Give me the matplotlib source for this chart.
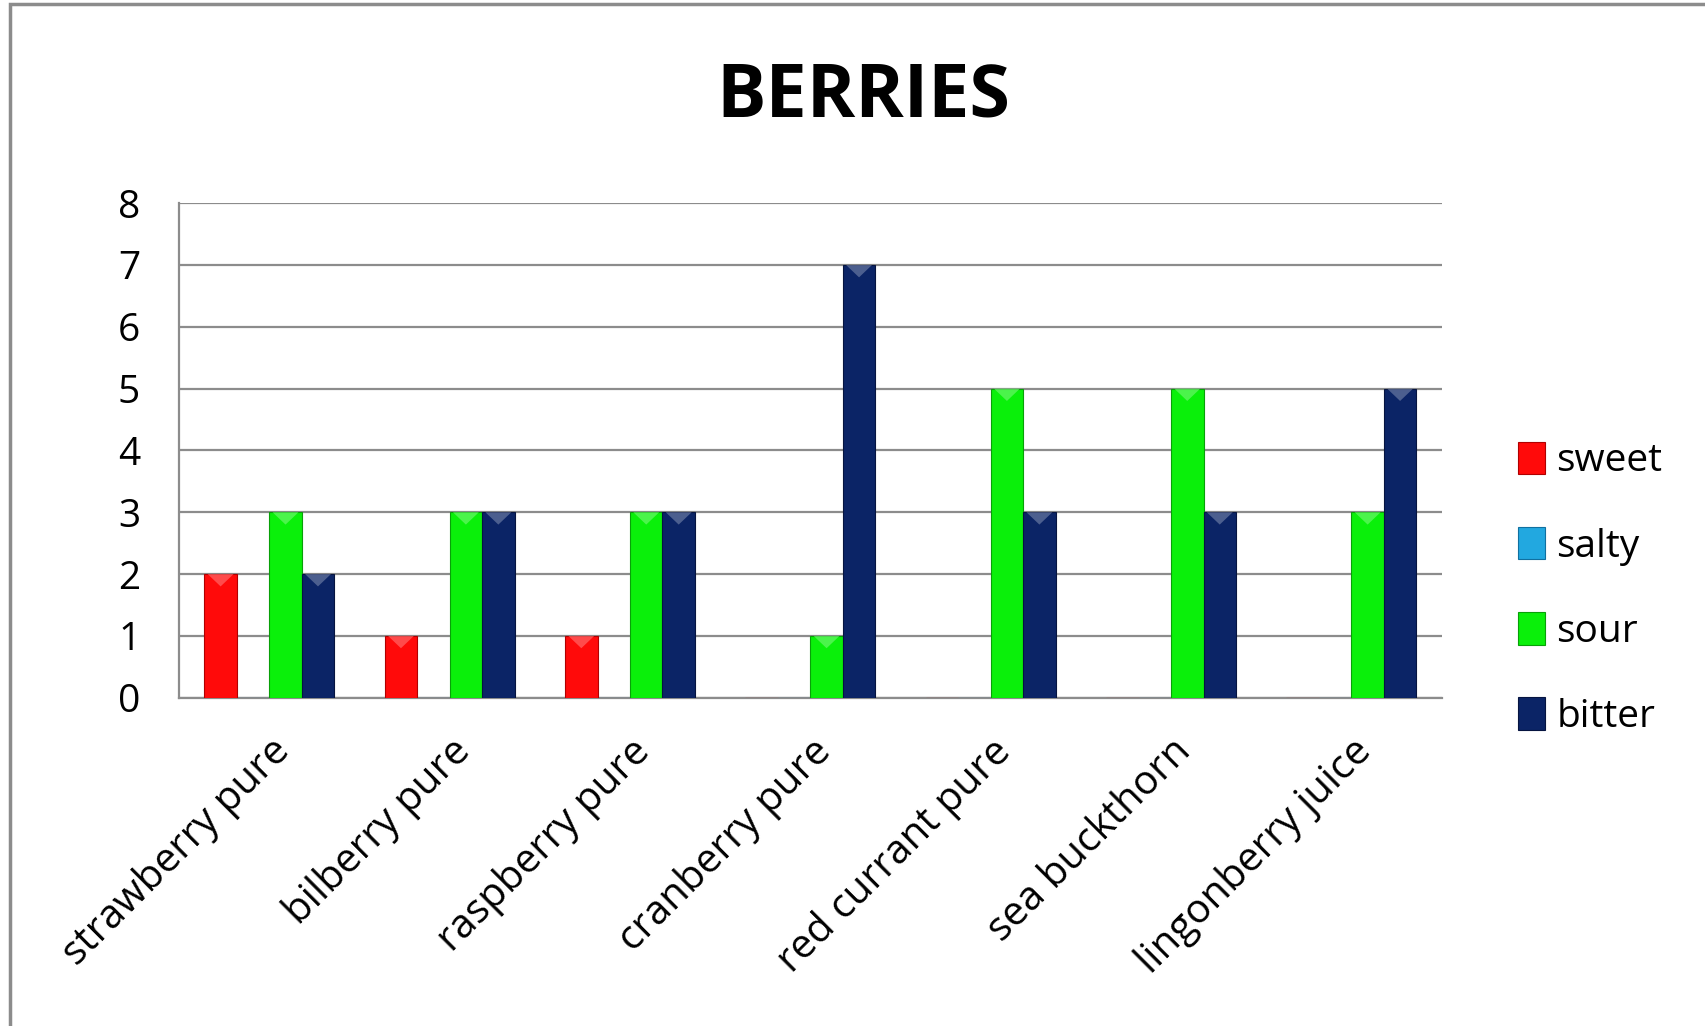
import matplotlib.pyplot as plt
import matplotlib.patches as mpatches
import matplotlib.colors as mcolors
import numpy as np

# data
categories = ['strawberry pure', 'bilberry pure', 'raspberry pure', 'cranberry pure',
              'red currant pure', 'sea buckthorn', 'lingonberry juice']
series_names = ['sweet', 'salty', 'sour', 'bitter']
sweet = [2, 1, 1, 0, 0, 0, 0]
salty = [0, 0, 0, 0, 0, 0, 0]
sour = [3, 3, 3, 1, 5, 5, 3]
bitter = [2, 3, 3, 7, 3, 3, 5]
colors = ['#FF0A0A', '#22A8E0', '#0AF00A', '#0B2466']
edges = ['#B00000', '#1070A0', '#08A008', '#061440']

plt.rcParams['font.family'] = ['Open Sans', 'DejaVu Sans']

fig = plt.figure(figsize=(17.06, 10.26), dpi=100)
ax = fig.add_axes([0.105, 0.32, 0.74, 0.482])

x = np.arange(len(categories))
width = 0.18
values = [sweet, salty, sour, bitter]
for i, (name, vals) in enumerate(zip(series_names, values)):
    bars = ax.bar(x + (i - 1.5) * width, vals, width, color=colors[i], edgecolor=edges[i],
                  linewidth=0.8, label=name, zorder=3)
    # small lighter bevel at the top of each bar
    light = tuple(0.55 * np.array(mcolors.to_rgb(colors[i])) + 0.45)
    for r in bars:
        if r.get_height() <= 0:
            continue
        x0, w, top = r.get_x(), r.get_width(), r.get_height()
        tri = mpatches.Polygon([[x0 + 0.1 * w, top], [x0 + 0.9 * w, top],
                                [x0 + 0.5 * w, top - 0.2]], closed=True,
                               facecolor=light, edgecolor='none', alpha=0.6, zorder=4)
        ax.add_patch(tri)

ax.set_xlim(-0.5, len(categories) - 0.5)
ax.set_ylim(0, 8)
ax.set_yticks(range(0, 9))
ax.yaxis.grid(True, color='#8C8C8C', linewidth=1.6, zorder=0)
ax.tick_params(axis='y', length=0, labelsize=28, pad=28)
ax.tick_params(axis='x', length=0, labelsize=29, pad=24)
ax.set_xticks(x)
ax.set_xticklabels(categories, rotation=45, ha='right', rotation_mode='anchor')
for s in ['top', 'right']:
    ax.spines[s].set_visible(False)
for s in ['left', 'bottom']:
    ax.spines[s].set_color('#8C8C8C')
    ax.spines[s].set_linewidth(1.6)

fig.text(0.506, 0.905, 'BERRIES', ha='center', va='center', fontsize=53, fontweight='bold')

fig.legend(loc='center left', bbox_to_anchor=(0.869, 0.426), frameon=False,
           fontsize=28, labelspacing=1.2, handlelength=0.7, handleheight=0.9,
           handletextpad=0.3)

fig.patches.append(mpatches.Rectangle((0.006, -0.1), 1.2, 1.096, transform=fig.transFigure,
                                      fill=False, edgecolor='#8C8C8C', linewidth=2.5))

fig.savefig('out.png', dpi=100)
